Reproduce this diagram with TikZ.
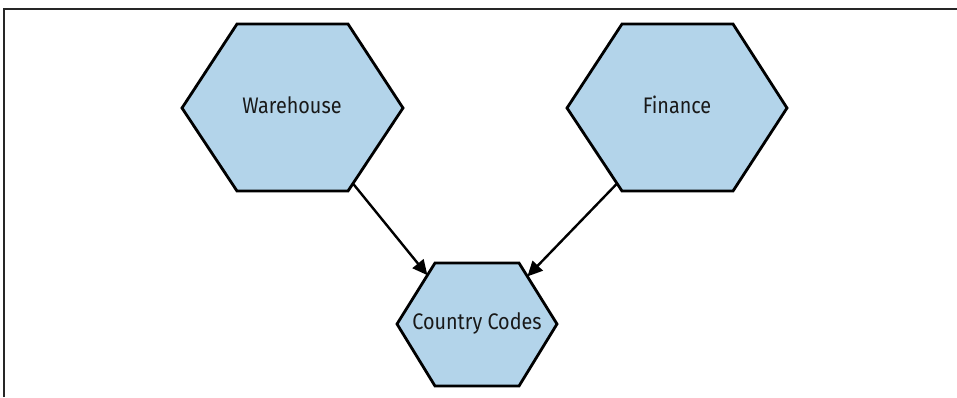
\documentclass[tikz,border=0pt]{standalone}
\usepackage{fontspec}
\setmainfont[FakeStretch=0.88]{Fira Sans}
\usetikzlibrary{arrows.meta,calc}
\definecolor{hexfill}{RGB}{179,212,234}
\tikzset{
  hexborder/.style={fill=hexfill, draw=black, line width=2.8pt, line join=miter},
  hexlabel/.style={font=\fontsize{22.5}{26}\selectfont, text=black!90, inner sep=0pt},
  link/.style={draw=black, line width=2.4pt, -{Triangle[length=15pt,width=14pt]}},
  framestyle/.style={draw=black!85, line width=1.6pt}
}
\begin{document}
\begin{tikzpicture}[x=1pt,y=-1pt]
\useasboundingbox (0,0) rectangle (957,397);
% frame
\draw[framestyle] (4,397) -- (4,9) -- (957,9);
% hexagon corners
\coordinate (whW) at (182,108); \coordinate (whNW) at (237,24); \coordinate (whNE) at (348,24);
\coordinate (whE) at (403,108); \coordinate (whSE) at (348,191); \coordinate (whSW) at (237,191);
\coordinate (fiW) at (567,108); \coordinate (fiNW) at (622,24); \coordinate (fiNE) at (733,24);
\coordinate (fiE) at (787,108); \coordinate (fiSE) at (733,191); \coordinate (fiSW) at (622,191);
\coordinate (ccW) at (397,324); \coordinate (ccNW) at (435,263); \coordinate (ccNE) at (519,263);
\coordinate (ccE) at (557,324); \coordinate (ccSE) at (519,386); \coordinate (ccSW) at (435,386);
\draw[hexborder] (whW) -- (whNW) -- (whNE) -- (whE) -- (whSE) -- (whSW) -- cycle;
\draw[hexborder] (fiW) -- (fiNW) -- (fiNE) -- (fiE) -- (fiSE) -- (fiSW) -- cycle;
\draw[hexborder] (ccW) -- (ccNW) -- (ccNE) -- (ccE) -- (ccSE) -- (ccSW) -- cycle;
% labels
\node[hexlabel] (warehouse) at (292,105) {Warehouse};
\node[hexlabel] (finance) at (677,105) {Finance};
\node[hexlabel] (codes) at (477,323) {Country Codes};
% connector ends on hexagon edges
\coordinate (wa) at ($(whSE)!0.09!(whE)$);
\coordinate (wb) at ($(ccW)!0.8!(ccNW)$);
\coordinate (fa) at ($(fiSW)!0.09!(fiW)$);
\coordinate (fb) at ($(ccE)!0.78!(ccNE)$);
\draw[link] (wa) -- (wb);
\draw[link] (fa) -- (fb);
\end{tikzpicture}
\end{document}
